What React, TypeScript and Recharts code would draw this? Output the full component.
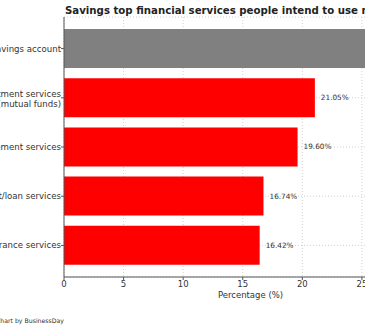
import { BarChart, Bar, XAxis, YAxis, CartesianGrid, Cell, LabelList } from 'recharts';

const categories = [
  'Savings account',
  'Investment services\n(mutual funds)',
  'Retirement services',
  'Credit/loan services',
  'Insurance services',
];
const shares = [29.8, 21.05, 19.6, 16.74, 16.42];
const xTicks = [0, 5, 10, 15, 20, 25];

const data = categories.map((name, i) => ({ name, value: shares[i] }));

const FONT = '"DejaVu Sans", sans-serif';
const barColors = ['#808080', '#ff0000', '#ff0000', '#ff0000', '#ff0000'];

const CategoryTick = (props: any) => {
  const { x, y, payload } = props;
  const lines = String(payload.value).split('\n');
  const lh = 10;
  const first = lines.length > 1 ? -0.5 : 3;
  return (
    <text x={x} y={y} textAnchor="end" fontSize={8.6} fill="#333" fontFamily={FONT}>
      {lines.map((l, i) => (
        <tspan key={i} x={x} y={y + first + i * lh}>
          {l}
        </tspan>
      ))}
    </text>
  );
};

export default function App() {
  return (
    <div
      style={{
        position: 'fixed',
        left: 0,
        top: 0,
        width: 365,
        height: 330,
        overflow: 'hidden',
        background: '#fff',
        fontFamily: FONT,
      }}
    >
      <BarChart
        width={437}
        height={330}
        data={data}
        layout="vertical"
        margin={{ top: 17, right: 0, bottom: 23, left: 0 }}
      >
        <CartesianGrid stroke="#d0d0d0" strokeDasharray="1 2" />
        <XAxis
          type="number"
          domain={[0, 31.3]}
          ticks={xTicks}
          height={30}
          tickSize={3}
          tickMargin={1}
          stroke="#555"
          tick={{ fontSize: 8.5, fill: '#333', fontFamily: FONT }}
          label={{
            value: 'Percentage (%)',
            position: 'insideBottom',
            offset: 9,
            fontSize: 8.5,
            fill: '#333',
            fontFamily: FONT,
          }}
        />
        <YAxis
          type="category"
          dataKey="name"
          width={64}
          padding={{ top: 7, bottom: 7 }}
          tickSize={3}
          tickMargin={0}
          stroke="#555"
          tick={<CategoryTick />}
          interval={0}
        />
        <Bar dataKey="value" barSize={39} isAnimationActive={false}>
          {data.map((d, i) => (
            <Cell key={d.name} fill={barColors[i]} />
          ))}
          <LabelList
            dataKey="value"
            position="right"
            offset={6}
            fontSize={7.3}
            fill="#333"
            fontFamily={FONT}
            formatter={(v: any) => `${Number(v).toFixed(2)}%`}
          />
        </Bar>
      </BarChart>
      <svg
        width={365}
        height={330}
        style={{ position: 'absolute', left: 0, top: 0, pointerEvents: 'none' }}
      >
        <text x={65} y={13.5} fontSize={10.2} fontWeight="bold" fill="#222" fontFamily={FONT}>
          Savings top financial services people intend to use next year
        </text>
        <text x={64} y={323} textAnchor="end" fontSize={6.2} fill="#333" fontFamily={FONT}>
          Chart by BusinessDay
        </text>
      </svg>
    </div>
  );
}
